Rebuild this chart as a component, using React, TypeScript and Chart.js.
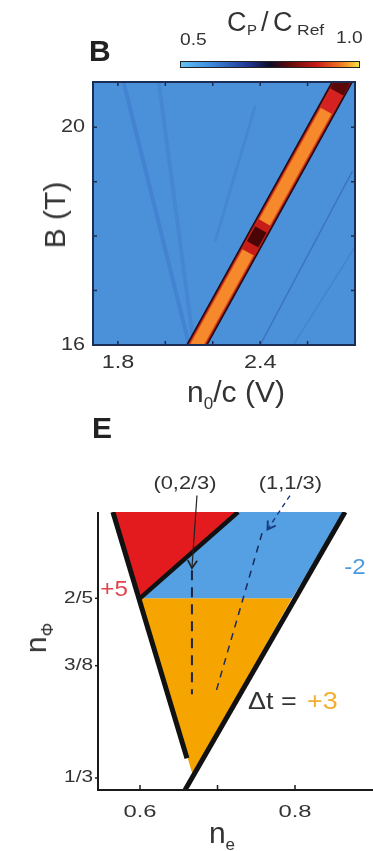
import React, { useEffect, useRef } from 'react';
import { Chart, registerables } from 'chart.js';
Chart.register(...registerables);

const FONT = '"Liberation Sans", Arial, sans-serif';

// ---------------- Panel B : C_P / C_Ref map ----------------
const bTickValues = [16, 17, 18, 19, 20];
const bTickLabels = ['16', '', '', '', '20'];
const vTickValues = [1.8, 2.0, 2.2, 2.4, 2.6];
const vTickLabels = ['1.8', '', '', '2.4', ''];

// bright incompressible stripe (centre line)
const stripeV = [2.095, 2.78];
const stripeB = [15.7, 21.1];
// red upper end of the stripe
const stripeTopV = [2.679, 2.78];
const stripeTopB = [20.3, 21.1];
const stripeTipV = [2.723, 2.78];
const stripeTipB = [20.65, 21.1];
// dark spot around B = 18 T
const spotV = [2.349, 2.419];
const spotB = [17.7, 18.25];
const spotCoreV = [2.368, 2.403];
const spotCoreB = [17.85, 18.12];
// faint darker features in the background
const faint1V = [1.82, 2.10];
const faint1B = [20.9, 16.0];
const faint2V = [1.97, 2.12];
const faint2B = [20.9, 16.0];
const faint3V = [2.38, 2.21];
const faint3B = [20.4, 17.9];
const faint4V = [2.40, 2.79];
const faint4B = [16.0, 19.2];
const faint5V = [2.54, 2.80];
const faint5B = [16.0, 17.8];

// ---------------- Panel E : phase diagram ----------------
const phiTickValues = [1 / 3, 3 / 8, 2 / 5];
const phiTickLabels = ['1/3', '3/8', '2/5'];
const neTickValues = [0.6, 0.7, 0.8];
const neTickLabels = ['0.6', '', '0.8'];

const redNe = [0.565, 0.7265, 0.600, 0.565];
const redPhi = [0.432, 0.432, 0.400, 0.432];
const blueNe = [0.7265, 0.8645, 0.796, 0.600, 0.7265];
const bluePhi = [0.432, 0.432, 0.400, 0.400, 0.432];
const orangeNe = [0.600, 0.796, 0.668, 0.600];
const orangePhi = [0.400, 0.400, 0.3345, 0.400];

const leftEdgeNe = [0.565, 0.6606];
const leftEdgePhi = [0.432, 0.3407];
const midEdgeNe = [0.598, 0.7265];
const midEdgePhi = [0.3995, 0.432];
const rightEdgeNe = [0.8645, 0.6581];
const rightEdgePhi = [0.432, 0.3289];

const dash1Ne = [0.667, 0.667];
const dash1Phi = [0.4104, 0.3644];
const dash2Ne = [0.7574, 0.6968];
const dash2Phi = [0.4241, 0.3641];

const arrow1Ne = [0.6735, 0.667];
const arrow1Phi = [0.4381, 0.4112];
const arrow2Ne = [0.7935, 0.7645];
const arrow2Phi = [0.4381, 0.4255];

const labelTexts = ['(0,2/3)', '(1,1/3)'];
const labelNe = [0.658, 0.794];
const labelPhi = [0.4426, 0.4426];

function pts(xs: number[], ys: number[]) {
  return xs.map((x, i) => ({ x, y: ys[i] }));
}

function line(xs: number[], ys: number[], color: string, width: number, order: number, extra: any = {}) {
  return {
    data: pts(xs, ys),
    showLine: true,
    borderColor: color,
    backgroundColor: color,
    borderWidth: width,
    pointRadius: 0,
    fill: false,
    order,
    borderCapStyle: 'butt',
    ...extra,
  };
}

function stretchText(ctx: CanvasRenderingContext2D, text: string, x: number, y: number, font: string, color: string, align: string, sx: number) {
  ctx.save();
  ctx.font = font;
  ctx.fillStyle = color;
  ctx.textBaseline = 'middle';
  ctx.textAlign = 'left';
  const w = ctx.measureText(text).width * sx;
  const left = align === 'center' ? x - w / 2 : align === 'right' ? x - w : x;
  ctx.translate(left, y);
  ctx.scale(sx, 1);
  ctx.fillText(text, 0, 0);
  ctx.restore();
  return w;
}

const heatPlugin = {
  id: 'heatPanel',
  beforeDatasetsDraw(chart: any) {
    const { ctx, chartArea: a } = chart;
    ctx.save();
    ctx.fillStyle = '#4b91da';
    ctx.fillRect(a.left, a.top, a.right - a.left, a.bottom - a.top);
    ctx.restore();
  },
  afterDatasetsDraw(chart: any) {
    const { ctx, chartArea: a, scales } = chart;
    ctx.save();
    ctx.strokeStyle = '#1c2d55';
    ctx.lineWidth = 1.5;
    vTickValues.forEach((v) => {
      const px = scales.x.getPixelForValue(v);
      ctx.beginPath();
      ctx.moveTo(px, a.top); ctx.lineTo(px, a.top + 4);
      ctx.moveTo(px, a.bottom); ctx.lineTo(px, a.bottom - 4);
      ctx.stroke();
    });
    bTickValues.forEach((b) => {
      const py = scales.y.getPixelForValue(b);
      ctx.beginPath();
      ctx.moveTo(a.left, py); ctx.lineTo(a.left + 4, py);
      ctx.moveTo(a.right, py); ctx.lineTo(a.right - 4, py);
      ctx.stroke();
    });
    ctx.lineWidth = 2;
    ctx.strokeRect(a.left, a.top, a.right - a.left, a.bottom - a.top);
    ctx.restore();
    const f = '18px ' + FONT;
    bTickValues.forEach((b, i) => {
      if (bTickLabels[i]) stretchText(ctx, bTickLabels[i], a.left - 8, scales.y.getPixelForValue(b), f, '#333', 'right', 1.2);
    });
    vTickValues.forEach((v, i) => {
      if (vTickLabels[i]) stretchText(ctx, vTickLabels[i], scales.x.getPixelForValue(v), a.bottom + 18, f, '#333', 'center', 1.3);
    });
  },
};

function drawArrow(ctx: CanvasRenderingContext2D, x0: number, y0: number, x1: number, y1: number, color: string, width: number, dash: number[]) {
  ctx.save();
  ctx.strokeStyle = color;
  ctx.lineWidth = width;
  ctx.setLineDash(dash);
  ctx.beginPath();
  ctx.moveTo(x0, y0);
  ctx.lineTo(x1, y1);
  ctx.stroke();
  ctx.setLineDash([]);
  const ang = Math.atan2(y1 - y0, x1 - x0);
  const L = 9;
  ctx.lineWidth = width + 0.5;
  ctx.beginPath();
  ctx.moveTo(x1 - L * Math.cos(ang - 0.55), y1 - L * Math.sin(ang - 0.55));
  ctx.lineTo(x1, y1);
  ctx.lineTo(x1 - L * Math.cos(ang + 0.55), y1 - L * Math.sin(ang + 0.55));
  ctx.stroke();
  ctx.restore();
}

const phasePlugin = {
  id: 'phasePanel',
  afterDatasetsDraw(chart: any) {
    const { ctx, chartArea: a, scales } = chart;
    const X = (v: number) => scales.x.getPixelForValue(v);
    const Y = (v: number) => scales.y.getPixelForValue(v);
    ctx.save();
    ctx.strokeStyle = '#1a1a1a';
    ctx.lineWidth = 2;
    ctx.beginPath();
    ctx.moveTo(a.left, a.top);
    ctx.lineTo(a.left, a.bottom);
    ctx.lineTo(a.right, a.bottom);
    ctx.stroke();
    ctx.lineWidth = 1.5;
    phiTickValues.forEach((v) => {
      ctx.beginPath();
      ctx.moveTo(a.left - 3, Y(v)); ctx.lineTo(a.left + 1, Y(v));
      ctx.stroke();
    });
    neTickValues.forEach((v) => {
      ctx.beginPath();
      ctx.moveTo(X(v), a.bottom); ctx.lineTo(X(v), a.bottom - 5);
      ctx.stroke();
    });
    ctx.restore();
    const f = '16px ' + FONT;
    phiTickValues.forEach((v, i) => stretchText(ctx, phiTickLabels[i], a.left - 5, Y(v), f, '#333', 'right', 1.3));
    neTickValues.forEach((v, i) => {
      if (neTickLabels[i]) stretchText(ctx, neTickLabels[i], X(v), a.bottom + 22, '17px ' + FONT, '#333', 'center', 1.4);
    });
    drawArrow(ctx, X(arrow1Ne[0]), Y(arrow1Phi[0]), X(arrow1Ne[1]), Y(arrow1Phi[1]), '#222', 1.2, []);
    drawArrow(ctx, X(arrow2Ne[0]), Y(arrow2Phi[0]), X(arrow2Ne[1]), Y(arrow2Phi[1]), '#1a3a80', 1.4, [5, 4]);
    labelTexts.forEach((t, i) => stretchText(ctx, t, X(labelNe[i]), Y(labelPhi[i]), '19px ' + FONT, '#333', 'center', 1.15));
    stretchText(ctx, '+5', X(0.5665), Y(0.403), '22px ' + FONT, '#e0444f', 'center', 1.1);
    stretchText(ctx, '-2', X(0.8774), Y(0.4111), '22px ' + FONT, '#4a9be0', 'center', 1.1);
    const w = stretchText(ctx, 'Δt = ', X(0.7394), Y(0.3615), '24px ' + FONT, '#333', 'left', 1.12);
    stretchText(ctx, '+3', X(0.7394) + w + 3, Y(0.3615), '24px ' + FONT, '#f2ae2e', 'left', 1.12);
  },
};

function PanelB() {
  const ref = useRef<HTMLCanvasElement>(null);
  useEffect(() => {
    const chart = new Chart(ref.current as HTMLCanvasElement, {
      type: 'scatter',
      data: {
        datasets: [
          line(faint1V, faint1B, 'rgba(40,80,180,0.22)', 4, 20),
          line(faint2V, faint2B, 'rgba(40,80,180,0.14)', 4, 20),
          line(faint3V, faint3B, 'rgba(40,80,180,0.14)', 3, 20),
          line(faint4V, faint4B, 'rgba(30,60,150,0.35)', 1.5, 20),
          line(faint5V, faint5B, 'rgba(30,60,150,0.15)', 1.5, 20),
          line(stripeV, stripeB, '#1a0814', 19, 12),
          line(stripeV, stripeB, '#8a1010', 16.5, 11),
          line(stripeV, stripeB, '#d84a1c', 14.5, 10),
          line(stripeV, stripeB, '#f5892c', 12, 9),
          line(stripeTopV, stripeTopB, '#d42222', 14, 8),
          line(stripeTipV, stripeTipB, '#5a0808', 15, 7),
          line(spotV, spotB, '#c81c18', 14, 6),
          line(spotCoreV, spotCoreB, '#4a0606', 13, 5),
        ] as any,
      },
      options: {
        animation: false,
        responsive: false,
        devicePixelRatio: 1,
        layout: { padding: { top: 82, right: 18, left: 0, bottom: 0 } },
        plugins: { legend: { display: false }, tooltip: { enabled: false } },
        scales: {
          x: {
            type: 'linear', min: 1.695, max: 2.8,
            afterBuildTicks: (s: any) => { s.ticks = vTickValues.map((v) => ({ value: v })); },
            ticks: { display: false }, grid: { display: false }, border: { display: false },
            afterFit: (s: any) => { s.height = 75; },
          },
          y: {
            type: 'linear', min: 16, max: 20.83,
            afterBuildTicks: (s: any) => { s.ticks = bTickValues.map((v) => ({ value: v })); },
            ticks: { display: false }, grid: { display: false }, border: { display: false },
            afterFit: (s: any) => { s.width = 93; },
          },
        },
      } as any,
      plugins: [heatPlugin],
    });
    return () => chart.destroy();
  }, []);
  return <canvas ref={ref} width={373} height={420} style={{ position: 'absolute', left: 0, top: 0 }} />;
}

function PanelE() {
  const ref = useRef<HTMLCanvasElement>(null);
  useEffect(() => {
    const poly = (xs: number[], ys: number[], color: string, order: number) => ({
      data: pts(xs, ys), showLine: true, borderWidth: 0, borderColor: color, backgroundColor: color,
      pointRadius: 0, fill: 'shape', order,
    });
    const chart = new Chart(ref.current as HTMLCanvasElement, {
      type: 'scatter',
      data: {
        datasets: [
          poly(redNe, redPhi, '#e31b1f', 20),
          poly(blueNe, bluePhi, '#55a0e2', 20),
          poly(orangeNe, orangePhi, '#f5a400', 20),
          line(dash1Ne, dash1Phi, '#1a2440', 2, 10, { borderDash: [10, 7] }),
          line(dash2Ne, dash2Phi, '#1a2a60', 1.5, 10, { borderDash: [7, 6] }),
          line(leftEdgeNe, leftEdgePhi, '#111', 5, 5),
          line(midEdgeNe, midEdgePhi, '#111', 4.5, 5),
          line(rightEdgeNe, rightEdgePhi, '#111', 5, 5),
        ] as any,
      },
      options: {
        animation: false,
        responsive: false,
        devicePixelRatio: 1,
        layout: { padding: { top: 72, right: 0, left: 0, bottom: 0 } },
        plugins: { legend: { display: false }, tooltip: { enabled: false } },
        scales: {
          x: {
            type: 'linear', min: 0.5458, max: 0.9006,
            afterBuildTicks: (s: any) => { s.ticks = neTickValues.map((v) => ({ value: v })); },
            ticks: { display: false }, grid: { display: false }, border: { display: false },
            afterFit: (s: any) => { s.height = 61; },
          },
          y: {
            type: 'linear', min: 0.3289, max: 0.432,
            afterBuildTicks: (s: any) => { s.ticks = phiTickValues.map((v) => ({ value: v })); },
            ticks: { display: false }, grid: { display: false }, border: { display: false },
            afterFit: (s: any) => { s.width = 98; },
          },
        },
      } as any,
      plugins: [phasePlugin],
    });
    return () => chart.destroy();
  }, []);
  return <canvas ref={ref} width={373} height={411} style={{ position: 'absolute', left: 0, top: 440 }} />;
}

const abs = (extra: React.CSSProperties): React.CSSProperties => ({
  position: 'absolute', fontFamily: FONT, lineHeight: 1, whiteSpace: 'nowrap', color: '#333', ...extra,
});

export default function App() {
  return (
    <div style={{ position: 'absolute', left: 0, top: 0, width: 373, height: 851, background: '#fff', overflow: 'hidden' }}>
      <PanelB />
      <PanelE />
      {/* panel letters */}
      <div style={abs({ left: 89, top: 36, fontSize: 30, fontWeight: 'bold', color: '#222' })}>B</div>
      <div style={abs({ left: 92, top: 413, fontSize: 30, fontWeight: 'bold', color: '#222' })}>E</div>
      {/* colour bar */}
      <div style={abs({ left: 227, top: 9, fontSize: 27 })}>C</div>
      <div style={abs({ left: 247, top: 22, fontSize: 15 })}>P</div>
      <div style={abs({ left: 261, top: 9, fontSize: 27 })}>/</div>
      <div style={abs({ left: 273, top: 9, fontSize: 27 })}>C</div>
      <div style={abs({ left: 297, top: 23, fontSize: 14, transform: 'scaleX(1.25)', transformOrigin: 'left' })}>Ref</div>
      <div style={abs({ left: 180, top: 32, fontSize: 16, transform: 'scaleX(1.2)', transformOrigin: 'left' })}>0.5</div>
      <div style={abs({ left: 336, top: 30, fontSize: 16, transform: 'scaleX(1.2)', transformOrigin: 'left' })}>1.0</div>
      <div style={{ position: 'absolute', left: 180, top: 61, width: 178, height: 5, border: '1px solid #222',
        background: 'linear-gradient(to right, #62c2f5 0%, #3c84da 18%, #1e3592 38%, #0c0c26 50%, #5a0a0a 60%, #c81818 76%, #f07a20 90%, #f8e040 100%)' }} />
      {/* axis titles, panel B */}
      <div style={abs({ left: 55, top: 215, fontSize: 30, transform: 'translate(-50%,-50%) rotate(-90deg)' })}>B (T)</div>
      <div style={abs({ left: 236, top: 377, fontSize: 30, transform: 'translateX(-50%)' })}>
        n<span style={{ fontSize: 17, position: 'relative', top: 7 }}>0</span>/c (V)
      </div>
      {/* axis titles, panel E */}
      <div style={abs({ left: 36, top: 638, fontSize: 30, transform: 'translate(-50%,-50%) rotate(-90deg)' })}>
        n<span style={{ fontSize: 17, position: 'relative', top: 7 }}>Φ</span>
      </div>
      <div style={abs({ left: 222, top: 818, fontSize: 30, transform: 'translateX(-50%)' })}>
        n<span style={{ fontSize: 17, position: 'relative', top: 7 }}>e</span>
      </div>
    </div>
  );
}
